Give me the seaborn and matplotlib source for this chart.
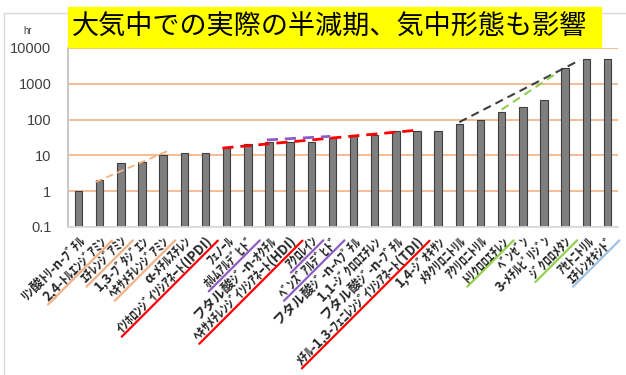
import numpy as np
import matplotlib
matplotlib.use('Agg')
import matplotlib.pyplot as plt
import matplotlib.patches as mpatches
from matplotlib.lines import Line2D
from matplotlib.ticker import NullLocator
import seaborn as sns

# ---- data ----
labels = ['ﾘﾝ酸ﾄﾘ-n-ﾌﾞﾁﾙ', '2,4-ﾄﾙｴﾝｼﾞｱﾐﾝ', 'ｴﾁﾚﾝｼﾞｱﾐﾝ', '1,3-ﾌﾞﾀｼﾞｴﾝ',
          'ﾍｷｻﾒﾁﾚﾝｼﾞｱﾐﾝ', 'α-ﾒﾁﾙｽﾁﾚﾝ', 'ｲｿﾎﾛﾝｼﾞｲｿｼｱﾈｰﾄ(IPDI)', 'ﾌｪﾉｰﾙ',
          'ﾎﾙﾑｱﾙﾃﾞﾋﾄﾞ', 'フタル酸ｼﾞ-n-ｵｸﾁﾙ', 'ﾍｷｻﾒﾁﾚﾝｼﾞｲｿｼｱﾈｰﾄ(HDI)', 'ｱｸﾛﾚｲﾝ',
          'ﾍﾞﾝｽﾞｱﾙﾃﾞﾋﾄﾞ', 'フタル酸ｼﾞ-n-ﾍﾌﾟﾁﾙ', '1,1-ｼﾞｸﾛﾛｴﾁﾚﾝ', 'フタル酸ｼﾞ-n-ﾌﾞﾁﾙ',
          'ﾒﾁﾙ-1,3-ﾌｪﾆﾚﾝｼﾞｲｿｼｱﾈｰﾄ(TDI)', '1,4-ｼﾞｵｷｻﾝ', 'ﾒﾀｸﾘﾛﾆﾄﾘﾙ', 'ｱｸﾘﾛﾆﾄﾘﾙ',
          'ﾄﾘｸﾛﾛｴﾁﾚﾝ', 'ﾍﾞﾝｾﾞﾝ', '3-ﾒﾁﾙﾋﾟﾘｼﾞﾝ', 'ｼﾞｸﾛﾛﾒﾀﾝ', 'ｱｾﾄﾆﾄﾘﾙ', 'ｴﾁﾚﾝｵｷｼﾄﾞ']
half_life = [1.0, 2.0, 6.1, 6.7, 10, 12, 12, 16, 21, 24, 24, 24, 30,
             36, 38, 49, 47, 47, 76, 98, 163, 230, 345, 2700, 4800, 4800]

yticks = [0.1, 1, 10, 100, 1000, 10000]
ytick_labels = ['0.1', '1', '10', '100', '1000', '10000']

# groups marked with a coloured underline under the label
orange_idx = [1, 2, 4]
red_idx = [6, 10, 16]
purple_idx = [8, 11, 12]
green_idx = [20, 23]
blue_idx = [25]

# dashed trend segments (x = bar position, y = hours)
trend_x0 = [0.8, 6.8, 8.9, 18.0, 20.0]
trend_x1 = [4.3, 15.9, 11.9, 23.7, 22.5]
trend_y0 = [1.8, 16, 27, 85, 190]
trend_y1 = [14, 50, 34, 4600, 1800]
trend_colors = ['#F4B183', '#FF0000', '#8E5CC8', '#404040', '#92D050']
trend_widths = [1.3, 2.0, 2.0, 1.5, 1.5]

title = '大気中での実際の半減期、気中形態も影響'

# ---- style ----
sns.set_theme(style='white')
plt.rcParams['font.family'] = ['Noto Sans CJK JP', 'DejaVu Sans']

fig = plt.figure(figsize=(6.26, 3.75), dpi=100)
ax = fig.add_axes([68 / 626, 1 - 227 / 375, 550 / 626, 179 / 375])
ax.set_yscale('log')

sns.barplot(x=list(range(len(labels))), y=half_life, ax=ax, color='#7F7F7F',
            saturation=1, width=0.35, edgecolor='#3F3F3F', linewidth=0.8,
            native_scale=False, zorder=2)

for x0, x1, y0, y1, c, w in zip(trend_x0, trend_x1, trend_y0, trend_y1,
                                trend_colors, trend_widths):
    ax.plot([x0, x1], [y0, y1], ls=(0, (4, 2.5)), color=c, lw=w, zorder=3)

ax.set_ylim(0.1, 10000)
ax.set_xlim(-0.5, len(labels) - 0.5)
ax.yaxis.set_minor_locator(NullLocator())
ax.set_yticks(yticks)
ax.set_yticklabels(ytick_labels, fontsize=10.5, color='#404040',
                   family=['Liberation Sans'])
ax.set_xticks(range(len(labels)))
ax.set_xticklabels(labels, rotation=45, ha='right', rotation_mode='anchor',
                   fontsize=9.5, fontweight='bold', color='#262626')
ax.tick_params(axis='both', length=0)
ax.tick_params(axis='x', pad=5)
ax.tick_params(axis='y', pad=12)
ax.set_xlabel('')
ax.set_ylabel('')
ax.yaxis.grid(True, color='#F4B183', lw=1.2)
ax.set_axisbelow(True)
for s in ['top', 'right']:
    ax.spines[s].set_visible(False)
ax.spines['left'].set_color('#BFBFBF')
ax.spines['bottom'].set_color('#D9D9D9')

# chart frame
fig.add_artist(Line2D([4 / 626, 4 / 626], [0, 1 - 13 / 375], color='#D9D9D9', lw=1))
fig.add_artist(Line2D([4 / 626, 1], [1 - 13 / 375, 1 - 13 / 375], color='#D9D9D9', lw=1))

# title box
fig.add_artist(mpatches.Rectangle((68 / 626, 1 - 47 / 375), 533 / 626, 40 / 375,
                                  transform=fig.transFigure, color='#FFFF00', zorder=5))
fig.text(330 / 626, 1 - 27 / 375, title, ha='center', va='center', fontsize=19.5,
         color='black', zorder=6)
fig.text(28 / 626, 1 - 31 / 375, 'hr', ha='center', va='center', fontsize=7,
         color='#404040', family=['Liberation Sans'])

# coloured underlines under the tick labels
fig.canvas.draw()
renderer = fig.canvas.get_renderer()
inv = fig.transFigure.inverted()
c45 = np.cos(np.pi / 4)
u = np.array([c45, c45])     # along the text
n = np.array([c45, -c45])    # below the text
groups = [(orange_idx, '#F4B183'), (red_idx, '#FF0000'), (purple_idx, '#8E5CC8'),
          (green_idx, '#92D050'), (blue_idx, '#9DC3E6')]
ticklabels = ax.get_xticklabels()
for idx_list, col in groups:
    for i in idx_list:
        t = ticklabels[i]
        prop = t.get_fontproperties()
        w, h, d = renderer.get_text_width_height_descent(t.get_text(), prop, ismath=False)
        _, hl, dl = renderer.get_text_width_height_descent('lp', prop, ismath=False)
        H, D = max(h, hl), max(d, dl)
        anchor = np.array(t.get_transform().transform(t.get_position()))
        end = anchor + (H - D + 2) * n + 4 * u
        start = end - (w + 6) * u
        p = inv.transform([start, end])
        fig.add_artist(Line2D(p[:, 0], p[:, 1], color=col, lw=1.6))

fig.savefig('out.png', dpi=100)
